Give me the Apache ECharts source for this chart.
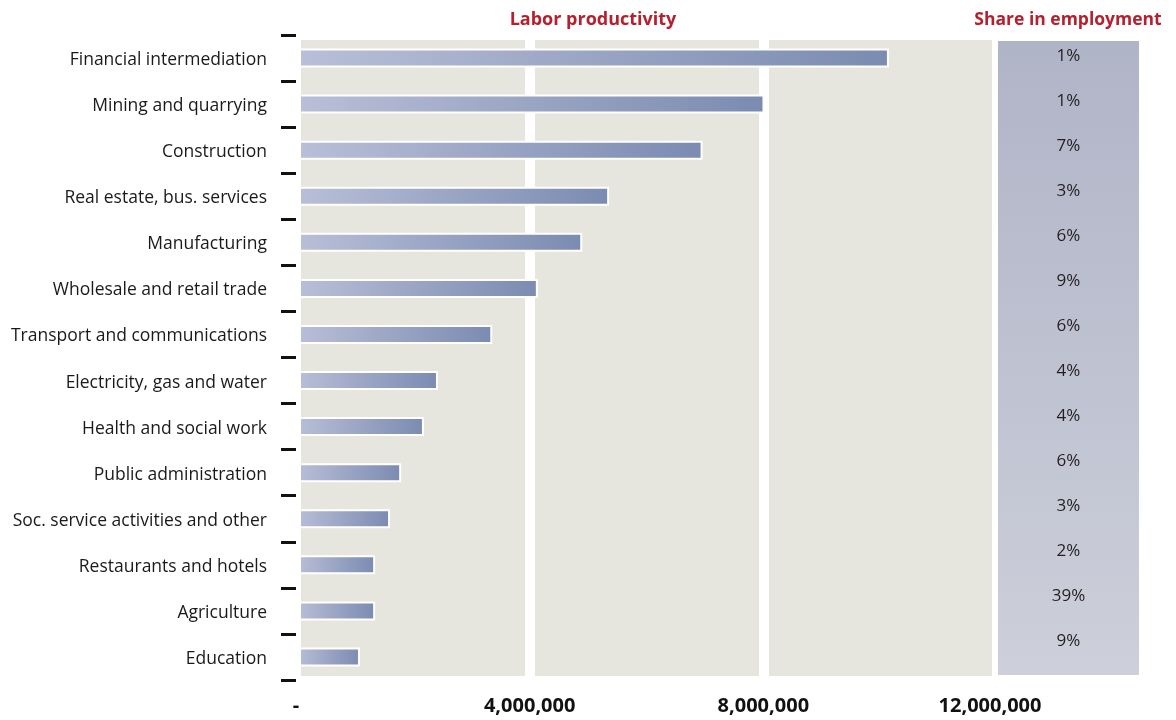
<!DOCTYPE html>
<html>
<head>
<meta charset="utf-8">
<script src="https://cdn.jsdelivr.net/npm/echarts@6/dist/echarts.min.js"></script>
<style>
html,body{margin:0;padding:0;background:#fff;}
#chart{width:1176px;height:720px;}
</style>
</head>
<body>
<div id="chart"></div>
<script>
const categories = [
  'Financial intermediation',
  'Mining and quarrying',
  'Construction',
  'Real estate, bus. services',
  'Manufacturing',
  'Wholesale and retail trade',
  'Transport and communications',
  'Electricity, gas and water',
  'Health and social work',
  'Public administration',
  'Soc. service activities and other',
  'Restaurants and hotels',
  'Agriculture',
  'Education'
];
const productivity = [10150000, 8020000, 6960000, 5360000, 4900000, 4140000, 3360000, 2430000, 2190000, 1800000, 1610000, 1355000, 1355000, 1095000];
const shareInEmployment = ['1%', '1%', '7%', '3%', '6%', '9%', '6%', '4%', '4%', '6%', '3%', '2%', '39%', '9%'];
const xTickLabels = ['-', '4,000,000', '8,000,000', '12,000,000'];
const titleLeft = 'Labor productivity';
const titleRight = 'Share in employment';

const FONT = 'Open Sans';
const chart = echarts.init(document.getElementById('chart'), null, {renderer: 'canvas'});

const barGradient = new echarts.graphic.LinearGradient(0, 0, 1, 0, [
  {offset: 0, color: '#b9bfd7'},
  {offset: 1, color: '#7b8bb1'}
]);
const panelGradient = new echarts.graphic.LinearGradient(0, 0, 0, 1, [
  {offset: 0, color: '#b0b4c7'},
  {offset: 1, color: '#cdcfda'}
]);

chart.setOption({
  backgroundColor: '#ffffff',
  animation: false,
  title: [
    {text: titleLeft, left: 588, top: 6, textAlign: 'center',
     textStyle: {color: '#b5202e', fontFamily: FONT, fontWeight: 'bold', fontSize: 18}},
    {text: titleRight, left: 1063, top: 6, textAlign: 'center',
     textStyle: {color: '#b5202e', fontFamily: FONT, fontWeight: 'bold', fontSize: 17.5}}
  ],
  grid: [
    {left: 296, right: 179, top: 35, bottom: 40, containLabel: false},
    {left: 296, right: 179, top: 40, bottom: 44, show: true, backgroundColor: '#e6e5de', borderWidth: 0},
    {left: 998, right: 37, top: 41, bottom: 45, show: true, backgroundColor: panelGradient, borderWidth: 0, z: 3},
    {left: 998, right: 37, top: 34, bottom: 56}
  ],
  xAxis: [
    {gridIndex: 0, type: 'value', min: 0, max: 12000000, interval: 4000000,
     axisLine: {show: false}, axisTick: {show: false}, splitLine: {show: false},
     axisLabel: {margin: 16, color: '#111', fontFamily: FONT, fontWeight: 'bold', fontSize: 20,
       formatter: function (v) {
         const i = Math.round(v / 4000000);
         return i === xTickLabels.length - 1 ? '{last|' + xTickLabels[i] + '}' : xTickLabels[i];
       },
       rich: {last: {color: '#111', fontFamily: FONT, fontWeight: 'bold', fontSize: 20, padding: [0, 14, 0, 0]}}}},
    {gridIndex: 1, type: 'value', min: 0, max: 12000000, interval: 4000000,
     axisLine: {show: false}, axisTick: {show: false}, axisLabel: {show: false},
     splitLine: {show: true, lineStyle: {color: '#ffffff', width: 10}}},
    {gridIndex: 2, type: 'value', min: 0, max: 1, show: false},
    {gridIndex: 3, type: 'value', min: 0, max: 1, show: false}
  ],
  yAxis: [
    {gridIndex: 0, type: 'category', data: categories, inverse: true, z: 3,
     axisLine: {show: true, lineStyle: {color: '#ffffff', width: 10}},
     axisTick: {show: true, length: 15, lineStyle: {color: '#111', width: 3}},
     axisLabel: {margin: 29, color: '#1a1a1a', fontFamily: FONT, fontSize: 17.5,
       formatter: function (v) { return '{c|' + v + '}'; },
       rich: {c: {color: '#1a1a1a', fontFamily: FONT, fontSize: 17.5, padding: [4, 0, 0, 0]}}},
     splitLine: {show: false}},
    {gridIndex: 1, type: 'category', data: categories, inverse: true, show: false},
    {gridIndex: 2, type: 'category', data: categories, inverse: true, show: false},
    {gridIndex: 3, type: 'category', data: categories, inverse: true, show: false}
  ],
  series: [
    {
      type: 'bar', xAxisIndex: 0, yAxisIndex: 0,
      data: productivity, barWidth: 19,
      itemStyle: {color: barGradient, borderColor: '#ffffff', borderWidth: 2},
      z: 2
    },
    {
      type: 'scatter', xAxisIndex: 3, yAxisIndex: 3, z: 10,
      symbolSize: 0, itemStyle: {color: 'rgba(0,0,0,0)'},
      data: categories.map(function (c) { return [0.5, c]; }),
      label: {show: true, position: 'inside', color: '#231f20', fontFamily: FONT, fontSize: 17, opacity: 1,
        formatter: function (p) { return shareInEmployment[p.dataIndex]; }}
    }
  ]
});
</script>
</body>
</html>
